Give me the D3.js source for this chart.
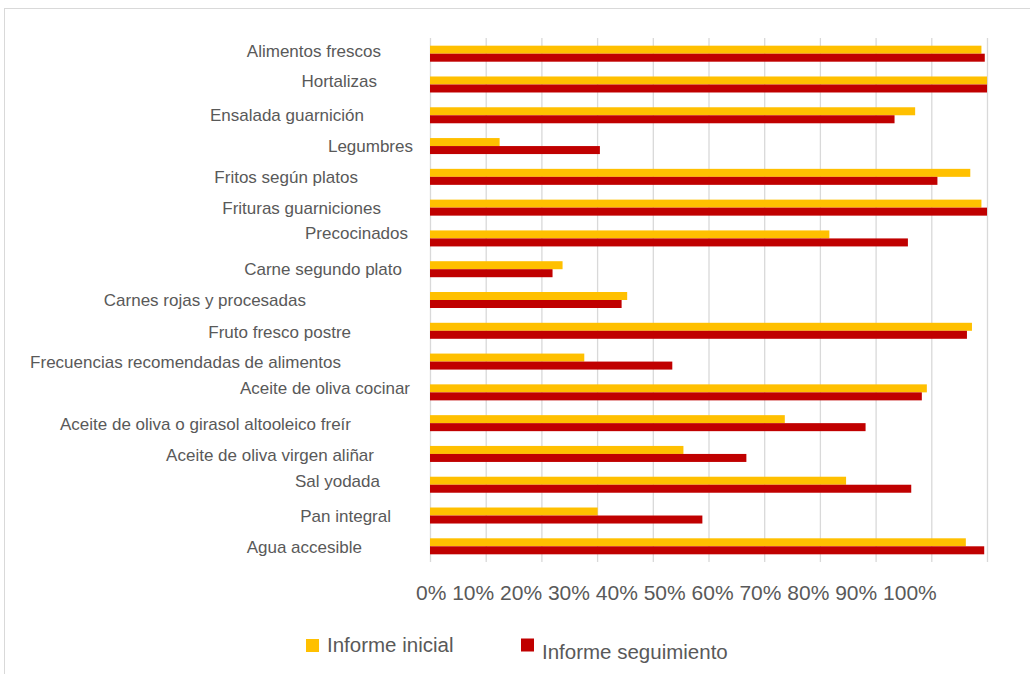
<!DOCTYPE html>
<html>
<head>
<meta charset="utf-8">
<script src="https://cdn.jsdelivr.net/npm/d3@7"></script>
<style>
	body { margin: 0; background: #fff; }
	text { font-family: "Liberation Sans", Arial, sans-serif; fill: #595959; }
</style>
</head>
<body>
<svg width="1030" height="674"></svg>
<script>
var categories = [
	"Alimentos frescos",
	"Hortalizas",
	"Ensalada guarnición",
	"Legumbres",
	"Fritos según platos",
	"Frituras guarniciones",
	"Precocinados",
	"Carne segundo plato",
	"Carnes rojas y procesadas",
	"Fruto fresco postre",
	"Frecuencias recomendadas de alimentos",
	"Aceite de oliva cocinar",
	"Aceite de oliva o girasol altooleico freír",
	"Aceite de oliva virgen aliñar",
	"Sal yodada",
	"Pan integral",
	"Agua accesible"
]
var inicial = [99.0, 100, 87.1, 12.5, 97.0, 99.0, 71.7, 23.8, 35.4, 97.3, 27.7, 89.2, 63.7, 45.5, 74.7, 30.1, 96.2]
var seguimiento = [99.6, 100, 83.4, 30.5, 91.1, 100, 85.8, 22.0, 34.4, 96.4, 43.5, 88.3, 78.2, 56.8, 86.4, 48.9, 99.5]
var seriesNames = ["Informe inicial", "Informe seguimiento"]
var tickValues = [0, 10, 20, 30, 40, 50, 60, 70, 80, 90, 100]
var tickLabels = ["0%", "10%", "20%", "30%", "40%", "50%", "60%", "70%", "80%", "90%", "100%"]

var colors = ["#FFC000", "#C00000"]

// the category labels in the picture are not lined up, so each one gets a nudge
var labelEnd = [381, 377, 364, 413, 358, 381, 408, 402, 306, 351, 341, 410, 351, 374, 380, 391, 362]
var labelDy = [-3, -3, -0.6, 0, 0, 0, -5, 0, 0, 1, 0, -4.4, 1, 1, -4, 0, 1]

var svg = d3.select("svg")

// outer frame
svg.append("rect")
	.attr("x", 4.5)
	.attr("y", 8.5)
	.attr("width", 1040)
	.attr("height", 700)
	.attr("fill", "none")
	.attr("stroke", "#d9d9d9")
	.attr("stroke-width", 1)

var x = d3.scaleLinear()
	.domain([0, 100])
	.range([430, 987])

var y = d3.scaleBand()
	.domain(categories)
	.range([38.3, 561.7])
	.paddingInner(0.48)
	.paddingOuter(0.24)

var sub = d3.scaleBand()
	.domain(seriesNames)
	.range([0, y.bandwidth()])

// gridlines
var grid = svg.append("g")
	.attr("transform", "translate(0,38)")
	.call(d3.axisBottom(x)
		.tickValues(tickValues)
		.tickSize(524)
		.tickFormat(""))
grid.select(".domain").remove()
grid.selectAll("line")
	.attr("stroke", "#d9d9d9")
	.attr("stroke-width", 1.3)

var rows = categories.map(function(c, i) {
	return { cat: c, values: [inicial[i], seguimiento[i]] }
})

var groups = svg.append("g")
	.selectAll("g")
	.data(rows)
	.enter()
	.append("g")
	.attr("transform", function(d) {
		return "translate(0," + y(d.cat) + ")"
	})

groups.selectAll("rect")
	.data(function(d) {
		return d.values.map(function(v, j) {
			return { name: seriesNames[j], value: v, color: colors[j] }
		})
	})
	.enter()
	.append("rect")
	.attr("x", x(0))
	.attr("y", function(d) { return sub(d.name) })
	.attr("width", function(d) { return x(d.value) - x(0) })
	.attr("height", sub.bandwidth())
	.attr("fill", function(d) { return d.color })

// category labels
svg.append("g")
	.selectAll("text")
	.data(categories)
	.enter()
	.append("text")
	.attr("x", function(d, i) { return labelEnd[i] })
	.attr("y", function(d, i) { return y(d) + y.bandwidth() / 2 + 6 + labelDy[i] })
	.attr("text-anchor", "end")
	.attr("font-size", 17)
	.text(function(d) { return d })

// tick labels run as one line of text under the grid
var tickText = svg.append("text")
	.attr("x", 416)
	.attr("y", 600)
	.attr("font-size", 21)
tickText.selectAll("tspan")
	.data(tickLabels)
	.enter()
	.append("tspan")
	.text(function(d, i) { return (i > 0 ? " " : "") + d })

// legend
var legend = [
	{ name: seriesNames[0], color: colors[0], sx: 306, sy: 639, tx: 327, ty: 652 },
	{ name: seriesNames[1], color: colors[1], sx: 521, sy: 638.5, tx: 542, ty: 658.5 }
]
var lg = svg.append("g")
	.selectAll("g")
	.data(legend)
	.enter()
	.append("g")
lg.append("rect")
	.attr("x", function(d) { return d.sx })
	.attr("y", function(d) { return d.sy })
	.attr("width", 13)
	.attr("height", 13)
	.attr("fill", function(d) { return d.color })
lg.append("text")
	.attr("x", function(d) { return d.tx })
	.attr("y", function(d) { return d.ty })
	.attr("font-size", 20.5)
	.text(function(d) { return d.name })
</script>
</body>
</html>
